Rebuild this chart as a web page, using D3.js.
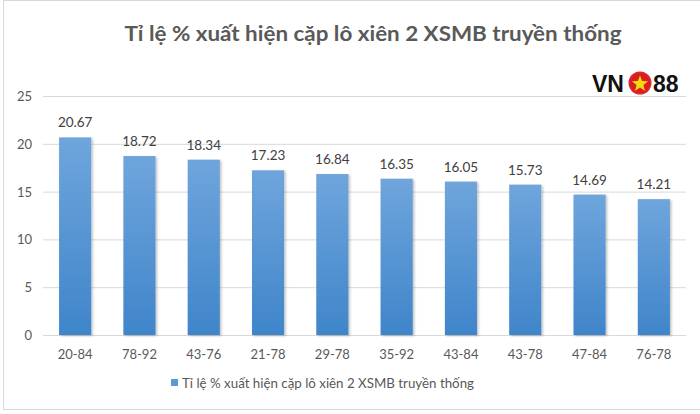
<!DOCTYPE html>
<html><head><meta charset="utf-8">
<script src="https://cdn.jsdelivr.net/npm/d3@7"></script>
<style>body{margin:0;background:#fff;}svg{display:block;font-family:Lato,"Open Sans",sans-serif;}</style>
</head><body><svg id="c" width="700" height="414"></svg>
<script>
const title = "Tỉ lệ % xuất hiện cặp lô xiên 2 XSMB truyền thống";
const categories = ["20-84","78-92","43-76","21-78","29-78","35-92","43-84","43-78","47-84","76-78"];
const values = [20.67,18.72,18.34,17.23,16.84,16.35,16.05,15.73,14.69,14.21];
const yTicks = [0,5,10,15,20,25];
const seriesName = "Tỉ lệ % xuất hiện cặp lô xiên 2 XSMB truyền thống";

const svg = d3.select("#c");
const W=700,H=414;
const m={left:43,right:686,top:96,bottom:335};
svg.append("rect").attr("x",3.5).attr("y",0.5).attr("width",710).attr("height",409).attr("fill","#fff").attr("stroke","#d9d9d9");

const x = d3.scaleBand().domain(categories).range([m.left,m.right]).paddingInner(0.5).paddingOuter(0.25);
const y = d3.scaleLinear().domain([0,25]).range([m.bottom,m.top]);

const defs = svg.append("defs");
const g = defs.append("linearGradient").attr("id","bg").attr("x1",0).attr("y1",0).attr("x2",0).attr("y2",1);
g.append("stop").attr("offset","0%").attr("stop-color","#6fa5dc");
g.append("stop").attr("offset","100%").attr("stop-color","#3f85ca");
const f = defs.append("filter").attr("id","sh").attr("x","-20%").attr("y","-10%").attr("width","150%").attr("height","130%");
f.append("feDropShadow").attr("dx",1.5).attr("dy",1).attr("stdDeviation",1.2).attr("flood-color","#000").attr("flood-opacity",0.25);

// gridlines
svg.append("g").selectAll("line").data(yTicks).join("line")
  .attr("x1",m.left).attr("x2",m.right).attr("y1",d=>y(d)+0.5).attr("y2",d=>y(d)+0.5)
  .attr("stroke","#d9d9d9").attr("stroke-width",1);

// y axis labels
const ya = svg.append("g").attr("transform",`translate(${m.left-11},0)`)
  .call(d3.axisLeft(y).tickValues(yTicks).tickSize(0).tickPadding(0));
ya.select(".domain").remove();
ya.selectAll("text").attr("font-size",13).attr("fill","#595959").attr("font-family","Lato,sans-serif").attr("dy","0.35em");

// x axis labels
const xa = svg.append("g").attr("transform",`translate(0,${m.bottom})`)
  .call(d3.axisBottom(x).tickSize(0).tickPadding(15));
xa.select(".domain").remove();
xa.selectAll("text").attr("font-size",13).attr("fill","#595959").attr("font-family","Lato,sans-serif");

// bars
svg.append("g").selectAll("rect").data(values).join("rect")
  .attr("x",(d,i)=>x(categories[i])).attr("width",x.bandwidth())
  .attr("y",d=>y(d)).attr("height",d=>y(0)-y(d))
  .attr("fill","url(#bg)").attr("filter","url(#sh)");

// value labels
svg.append("g").selectAll("text").data(values).join("text")
  .attr("x",(d,i)=>x(categories[i])+x.bandwidth()/2).attr("y",d=>y(d)-10)
  .attr("text-anchor","middle").attr("font-size",13.5).attr("fill","#404040")
  .text(d=>d.toFixed(2));

// title
svg.append("text").attr("x",373).attr("y",41).attr("text-anchor","middle")
  .attr("font-size",21).attr("font-weight","bold").attr("fill","#595959")
  .attr("textLength",497).attr("lengthAdjust","spacingAndGlyphs").text(title);

// legend
svg.append("rect").attr("x",171).attr("y",379).attr("width",7).attr("height",7).attr("fill","#5b9bd5");
svg.append("text").attr("x",182).attr("y",388).attr("font-size",13.5).attr("fill","#595959")
  .attr("textLength",292).attr("lengthAdjust","spacingAndGlyphs").text(seriesName);

// logo
const lg = svg.append("g");
lg.append("text").attr("x",592).attr("y",92).attr("font-size",23).attr("font-weight","bold").attr("fill","#111")
  .attr("font-family","'Liberation Sans',Arial,sans-serif").text("VN");
lg.append("circle").attr("cx",640).attr("cy",83).attr("r",11.5).attr("fill","#e3262b");
lg.append("circle").attr("cx",640).attr("cy",83).attr("r",10).attr("fill","#d81e24");
const star = d3.range(10).map(i=>{const r=i%2?3.6:8.5;const a=-Math.PI/2+i*Math.PI/5;return [640+r*Math.cos(a),84+r*Math.sin(a)];});
lg.append("polygon").attr("points",star.map(p=>p.join(",")).join(" ")).attr("fill","#f5d90a");
lg.append("text").attr("x",653).attr("y",92).attr("font-size",23).attr("font-weight","bold").attr("fill","#111")
  .attr("font-family","'Liberation Sans',Arial,sans-serif").text("88");
</script></body></html>
